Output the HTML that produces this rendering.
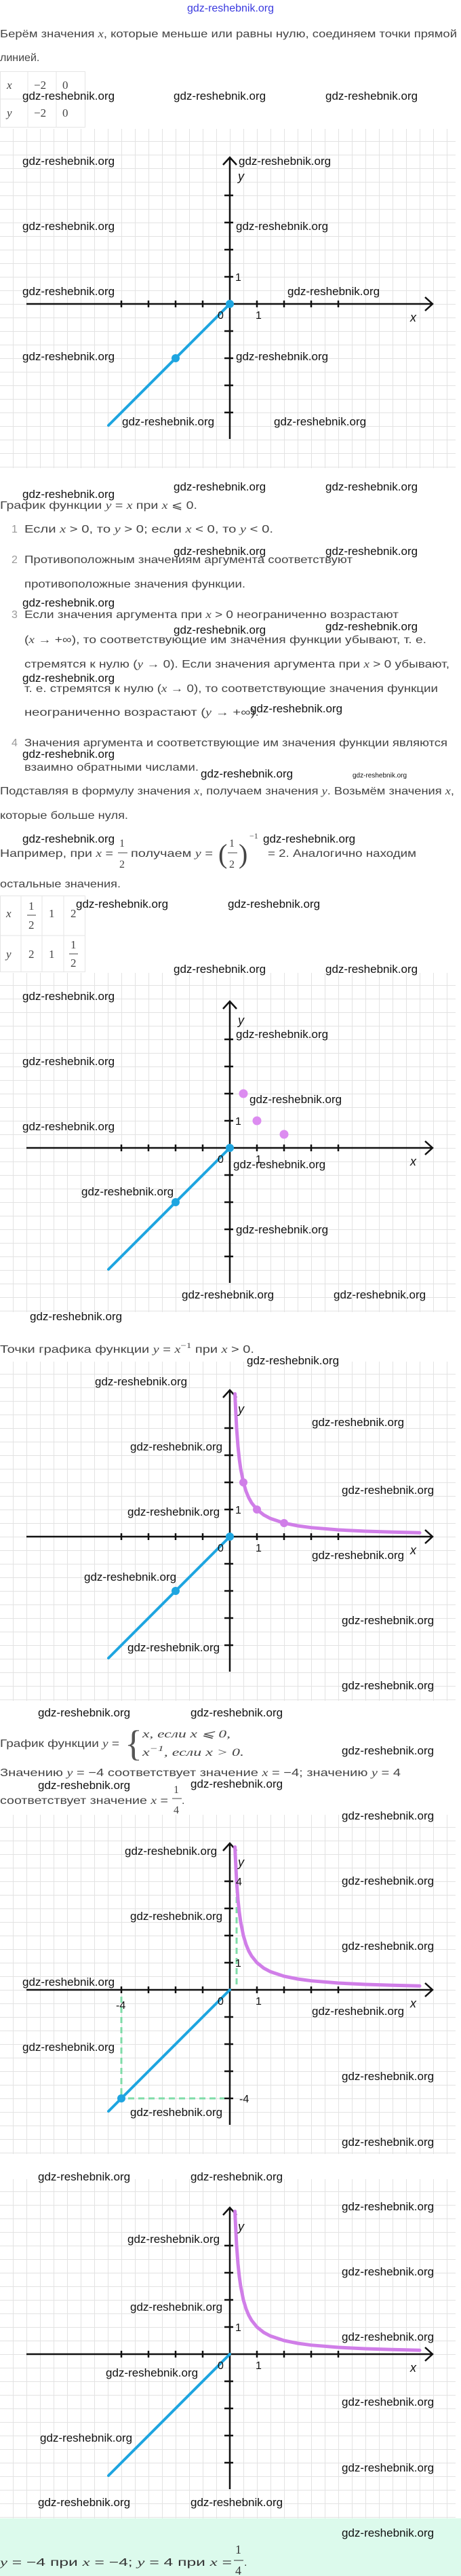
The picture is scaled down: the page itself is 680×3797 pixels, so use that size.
<!DOCTYPE html>
<html><head><meta charset="utf-8"><style>
html,body{margin:0;padding:0;background:#fff}
svg{display:block}
.t{font-family:"Liberation Sans",sans-serif;font-size:16px;fill:#444}
.m{font-family:"Liberation Serif",serif;font-style:italic}
.n{font-family:"Liberation Serif",serif}
.w{font-family:"Liberation Sans",sans-serif;font-size:17px;fill:#111}
.lb{font-family:"Liberation Sans",sans-serif;font-size:16px;fill:#111}
.ax{stroke:#111;stroke-width:2.5;fill:none}
</style></head><body>
<svg width="680" height="3797" viewBox="0 0 680 3797" xmlns="http://www.w3.org/2000/svg">
<defs>
<pattern id="g" width="20" height="20" patternUnits="userSpaceOnUse"><path d="M0 0.5H20M0.5 0V20" stroke="#e3e3e3" stroke-width="1"/></pattern>
<g id="axes">
<rect x="-339" y="-258" width="672" height="500" fill="url(#g)"/>
<path class="ax" d="M-300 0H299M288 -10L299 0L288 10M0 199V-216M-10 -205L0 -216L10 -205"/>
<path class="ax" d="M-160 -5V5M-120 -5V5M-80 -5V5M-40 -5V5M40 -5V5M80 -5V5M120 -5V5M160 -5V5M-8 -160H5M-8 -120H5M-8 -80H5M-8 -40H5M-8 40H5M-8 80H5M-8 120H5M-8 160H5"/>
</g>
<path id="cur" d="M7.6 -210.5L8 -200L10 -160L12 -133.3L14 -114.3L16 -100L20 -80L24 -66.7L28 -57.1L32 -50L40 -40L50 -32L60 -26.7L80 -20L100 -16L120 -13.3L160 -10L200 -8L240 -6.7L280 -5.7" fill="none" stroke="#d07ee8" stroke-width="5" stroke-linecap="round"/>
<path id="bl" d="M-179 179L0 0" stroke="#1ea5e0" stroke-width="4" stroke-linecap="round"/>
</defs>

<text x="340" y="17" text-anchor="middle" style="font-family:'Liberation Sans',sans-serif;font-size:16px;fill:#3a3adf">gdz-reshebnik.org</text>

<text class="t" x="0" y="55" textLength="674" lengthAdjust="spacingAndGlyphs">Берём значения <tspan class="m">x</tspan>, которые меньше или равны нулю, соединяем точки прямой</text>
<text class="t" x="0" y="90">линией.</text>
<rect x="0.5" y="105.5" width="125" height="82" fill="none" stroke="#e5e5e5"/>
<path d="M41 105V187M83 105V187M0 146H126" stroke="#e5e5e5"/>
<g class="t n" style="font-size:17px"><text x="10" y="131" class="m">x</text><text x="50" y="131">−2</text><text x="92" y="131">0</text>
<text x="10" y="172" class="m">y</text><text x="50" y="172">−2</text><text x="92" y="172">0</text></g>

<!-- chart 1 -->
<g transform="translate(339,448)">
<use href="#axes"/><use href="#bl"/>
<circle cx="-80" cy="80" r="6" fill="#1ea5e0"/><circle cx="0" cy="0" r="6" fill="#1ea5e0"/>
<text class="lb" x="-18" y="22">0</text><text class="lb" x="38" y="22">1</text><text class="lb" x="8" y="-34">1</text>
<text class="lb m" x="266" y="26" style="font-family:'Liberation Sans',sans-serif;font-size:18px">x</text><text class="lb m" x="12" y="-182" style="font-family:'Liberation Sans',sans-serif;font-size:18px">y</text>
</g>

<text class="t" x="0" y="750" textLength="291" lengthAdjust="spacingAndGlyphs">График функции <tspan class="m">y</tspan> = <tspan class="m">x</tspan> при <tspan class="m">x</tspan> ⩽ 0.</text>
<g class="t">
<text x="17" y="785" fill="#999">1</text><text x="36" y="785" textLength="367" lengthAdjust="spacingAndGlyphs">Если <tspan class="m">x</tspan> &gt; 0, то <tspan class="m">y</tspan> &gt; 0; если <tspan class="m">x</tspan> &lt; 0, то <tspan class="m">y</tspan> &lt; 0.</text>
<text x="17" y="830" fill="#999">2</text><text x="36" y="830" textLength="484" lengthAdjust="spacingAndGlyphs">Противоположным значениям аргумента соответствуют</text>
<text x="36" y="866" textLength="326" lengthAdjust="spacingAndGlyphs">противоположные значения функции.</text>
<text x="17" y="911" fill="#999">3</text><text x="36" y="911" textLength="552" lengthAdjust="spacingAndGlyphs">Если значения аргумента при <tspan class="m">x</tspan> &gt; 0 неограниченно возрастают</text>
<text x="36" y="948" textLength="593" lengthAdjust="spacingAndGlyphs">(<tspan class="m">x</tspan> → +∞), то соответствующие им значения функции убывают, т. е.</text>
<text x="36" y="984" textLength="627" lengthAdjust="spacingAndGlyphs">стремятся к нулю (<tspan class="m">y</tspan> → 0). Если значения аргумента при <tspan class="m">x</tspan> &gt; 0 убывают,</text>
<text x="36" y="1020" textLength="610" lengthAdjust="spacingAndGlyphs">т. е. стремятся к нулю (<tspan class="m">x</tspan> → 0), то соответствующие значения функции</text>
<text x="36" y="1055" textLength="346" lengthAdjust="spacingAndGlyphs">неограниченно возрастают (<tspan class="m">y</tspan> → +∞).</text>
<text x="17" y="1100" fill="#999">4</text><text x="36" y="1100" textLength="624" lengthAdjust="spacingAndGlyphs">Значения аргумента и соответствующие им значения функции являются</text>
<text x="36" y="1136" textLength="257" lengthAdjust="spacingAndGlyphs">взаимно обратными числами.</text>
<text x="0" y="1171" textLength="670" lengthAdjust="spacingAndGlyphs">Подставляя в формулу значения <tspan class="m">x</tspan>, получаем значения <tspan class="m">y</tspan>. Возьмём значения <tspan class="m">x</tspan>,</text>
<text x="0" y="1207" textLength="189" lengthAdjust="spacingAndGlyphs">которые больше нуля.</text>
<text x="0" y="1263" textLength="167" lengthAdjust="spacingAndGlyphs">Например, при <tspan class="m">x</tspan> =</text>
<text x="176" y="1248" class="n">1</text><path d="M174 1257H188" stroke="#444"/><text x="176" y="1279" class="n">2</text>
<text x="193" y="1263" textLength="121" lengthAdjust="spacingAndGlyphs">получаем <tspan class="m">y</tspan> =</text>
<text x="322" y="1272" class="n" style="font-size:40px">(</text><text x="338" y="1248" class="n">1</text><path d="M336 1257H350" stroke="#444"/><text x="338" y="1279" class="n">2</text><text x="352" y="1272" class="n" style="font-size:40px">)</text>
<text x="368" y="1236" class="n" style="font-size:12px">−1</text>
<text x="395" y="1263" textLength="219" lengthAdjust="spacingAndGlyphs">= 2. Аналогично находим</text>
<text x="0" y="1308" textLength="178" lengthAdjust="spacingAndGlyphs">остальные значения.</text>
</g>
<rect x="0.5" y="1320.5" width="125" height="112" fill="none" stroke="#e5e5e5"/>
<path d="M31 1320V1433M62 1320V1433M94 1320V1433M0 1379H126" stroke="#e5e5e5"/>
<g class="t n" style="font-size:17px">
<text x="9" y="1352" class="m">x</text><text x="42" y="1341">1</text><path d="M40 1349H53" stroke="#444"/><text x="42" y="1369">2</text><text x="72" y="1352">1</text><text x="104" y="1352">2</text>
<text x="9" y="1412" class="m">y</text><text x="42" y="1412">2</text><text x="72" y="1412">1</text><text x="104" y="1398">1</text><path d="M102 1406H115" stroke="#444"/><text x="104" y="1425">2</text>
</g>

<!-- chart 2 -->
<g transform="translate(339,1692)">
<use href="#axes"/><use href="#bl"/>
<circle cx="-80" cy="80" r="6" fill="#1ea5e0"/><circle cx="0" cy="0" r="6" fill="#1ea5e0"/>
<circle cx="20" cy="-80" r="6.5" fill="#dc8cf0"/><circle cx="40" cy="-40" r="6.5" fill="#dc8cf0"/><circle cx="80" cy="-20" r="6.5" fill="#dc8cf0"/>
<text class="lb" x="-18" y="22">0</text><text class="lb" x="38" y="22">1</text><text class="lb" x="8" y="-34">1</text>
<text class="lb" x="266" y="26" style="font-size:18px;font-style:italic">x</text><text class="lb" x="12" y="-182" style="font-size:18px;font-style:italic">y</text>
</g>

<text class="t" x="0" y="1994" textLength="375" lengthAdjust="spacingAndGlyphs">Точки графика функции <tspan class="m">y</tspan> = <tspan class="m">x</tspan><tspan class="n" dy="-7" style="font-size:12px">−1</tspan><tspan dy="7"> при </tspan><tspan class="m">x</tspan> &gt; 0.</text>

<!-- chart 3 -->
<g transform="translate(339,2265)">
<use href="#axes"/><use href="#bl"/><use href="#cur"/>
<circle cx="-80" cy="80" r="6" fill="#1ea5e0"/><circle cx="0" cy="0" r="6" fill="#1ea5e0"/>
<circle cx="20" cy="-80" r="6" fill="#d07ee8"/><circle cx="40" cy="-40" r="6" fill="#d07ee8"/><circle cx="80" cy="-20" r="6" fill="#d07ee8"/>
<text class="lb" x="-18" y="22">0</text><text class="lb" x="38" y="22">1</text><text class="lb" x="8" y="-34">1</text>
<text class="lb" x="266" y="26" style="font-size:18px;font-style:italic">x</text><text class="lb" x="12" y="-182" style="font-size:18px;font-style:italic">y</text>
</g>

<g class="t">
<text x="0" y="2575" textLength="176" lengthAdjust="spacingAndGlyphs">График функции <tspan class="m">y</tspan> =</text>
<text x="184" y="2588" class="n" style="font-size:54px;fill:#555">{</text>
<text x="210" y="2561" class="m" textLength="130" lengthAdjust="spacingAndGlyphs">x,  если x ⩽ 0,</text>
<text x="210" y="2588" class="m" textLength="150" lengthAdjust="spacingAndGlyphs">x<tspan dy="-7" class="n" style="font-size:12px">−1</tspan><tspan dy="7">,  если x &gt; 0.</tspan></text>
<text x="0" y="2618" textLength="591" lengthAdjust="spacingAndGlyphs">Значению <tspan class="m">y</tspan> = −4 соответствует значение <tspan class="m">x</tspan> = −4; значению <tspan class="m">y</tspan> = 4</text>
<text x="0" y="2659" textLength="248" lengthAdjust="spacingAndGlyphs">соответствует значение <tspan class="m">x</tspan> =</text>
<text x="256" y="2643" class="n">1</text><path d="M254 2651H268" stroke="#444"/><text x="256" y="2673" class="n">4</text><text x="268" y="2659">.</text>
</g>

<!-- chart 4 -->
<g transform="translate(339,2933)">
<use href="#axes"/>
<path d="M-160 10V160M-150 160H-8M10 -8V-160" stroke="#7fdca8" stroke-width="3" stroke-dasharray="9 6" fill="none"/>
<use href="#cur"/><use href="#bl"/>
<circle cx="-160" cy="160" r="6" fill="#1ea5e0"/>
<text class="lb" x="-18" y="22">0</text><text class="lb" x="38" y="22">1</text><text class="lb" x="8" y="-34">1</text>
<text class="lb" x="-168" y="28">-4</text><text class="lb" x="14" y="166">-4</text><text class="lb" x="9" y="-154">4</text>
<text class="lb" x="266" y="26" style="font-size:18px;font-style:italic">x</text><text class="lb" x="12" y="-182" style="font-size:18px;font-style:italic">y</text>
</g>

<!-- chart 5 -->
<g transform="translate(339,3470)">
<use href="#axes"/><use href="#cur"/><use href="#bl"/>
<text class="lb" x="-18" y="22">0</text><text class="lb" x="38" y="22">1</text><text class="lb" x="8" y="-34">1</text>
<text class="lb" x="266" y="26" style="font-size:18px;font-style:italic">x</text><text class="lb" x="12" y="-182" style="font-size:18px;font-style:italic">y</text>
</g>

<rect x="0" y="3712" width="680" height="85" fill="#dcfaec"/>
<g class="t" style="fill:#333">
<text x="0" y="3782" textLength="342" lengthAdjust="spacingAndGlyphs"><tspan class="m">y</tspan> = −4 при <tspan class="m">x</tspan> = −4; <tspan class="m">y</tspan> = 4 при <tspan class="m">x</tspan> =</text>
<text x="347" y="3764" class="n" style="font-size:18px">1</text><path d="M345 3774H359" stroke="#333"/><text x="347" y="3795" class="n" style="font-size:18px">4</text><text x="360" y="3782">.</text>
</g>

<!-- watermarks -->
<g class="w">
<text x="33" y="147">gdz-reshebnik.org</text><text x="256" y="147">gdz-reshebnik.org</text><text x="480" y="147">gdz-reshebnik.org</text>
<text x="33" y="243">gdz-reshebnik.org</text><text x="352" y="243">gdz-reshebnik.org</text>
<text x="33" y="339">gdz-reshebnik.org</text><text x="348" y="339">gdz-reshebnik.org</text>
<text x="33" y="435">gdz-reshebnik.org</text><text x="424" y="435">gdz-reshebnik.org</text>
<text x="33" y="531">gdz-reshebnik.org</text><text x="348" y="531">gdz-reshebnik.org</text>
<text x="180" y="627">gdz-reshebnik.org</text><text x="404" y="627">gdz-reshebnik.org</text>
<text x="256" y="723">gdz-reshebnik.org</text><text x="480" y="723">gdz-reshebnik.org</text><text x="33" y="734">gdz-reshebnik.org</text>
<text x="256" y="818">gdz-reshebnik.org</text><text x="480" y="818">gdz-reshebnik.org</text>
<text x="33" y="894">gdz-reshebnik.org</text>
<text x="256" y="934">gdz-reshebnik.org</text><text x="480" y="929">gdz-reshebnik.org</text>
<text x="33" y="1005">gdz-reshebnik.org</text>
<text x="369" y="1050">gdz-reshebnik.org</text>
<text x="33" y="1117">gdz-reshebnik.org</text>
<text x="296" y="1146">gdz-reshebnik.org</text><text x="520" y="1146" style="font-size:10px">gdz-reshebnik.org</text>
<text x="33" y="1242">gdz-reshebnik.org</text><text x="388" y="1242">gdz-reshebnik.org</text>
<text x="112" y="1338">gdz-reshebnik.org</text><text x="336" y="1338">gdz-reshebnik.org</text>
<text x="256" y="1434">gdz-reshebnik.org</text><text x="480" y="1434">gdz-reshebnik.org</text>
<text x="33" y="1474">gdz-reshebnik.org</text>
<text x="348" y="1530">gdz-reshebnik.org</text>
<text x="33" y="1570">gdz-reshebnik.org</text>
<text x="368" y="1626">gdz-reshebnik.org</text>
<text x="33" y="1666">gdz-reshebnik.org</text>
<text x="344" y="1722">gdz-reshebnik.org</text>
<text x="120" y="1762">gdz-reshebnik.org</text>
<text x="348" y="1818">gdz-reshebnik.org</text>
<text x="268" y="1914">gdz-reshebnik.org</text><text x="492" y="1914">gdz-reshebnik.org</text>
<text x="44" y="1946">gdz-reshebnik.org</text>
<text x="364" y="2011">gdz-reshebnik.org</text>
<text x="140" y="2042">gdz-reshebnik.org</text>
<text x="460" y="2102">gdz-reshebnik.org</text>
<text x="192" y="2138">gdz-reshebnik.org</text>
<text x="504" y="2202">gdz-reshebnik.org</text>
<text x="188" y="2234">gdz-reshebnik.org</text>
<text x="460" y="2298">gdz-reshebnik.org</text>
<text x="124" y="2330">gdz-reshebnik.org</text>
<text x="504" y="2394">gdz-reshebnik.org</text>
<text x="188" y="2434">gdz-reshebnik.org</text>
<text x="504" y="2490">gdz-reshebnik.org</text>
<text x="56" y="2530">gdz-reshebnik.org</text><text x="281" y="2530">gdz-reshebnik.org</text>
<text x="504" y="2586">gdz-reshebnik.org</text>
<text x="56" y="2637">gdz-reshebnik.org</text><text x="281" y="2635">gdz-reshebnik.org</text>
<text x="504" y="2682">gdz-reshebnik.org</text>
<text x="184" y="2734">gdz-reshebnik.org</text>
<text x="504" y="2778">gdz-reshebnik.org</text>
<text x="192" y="2830">gdz-reshebnik.org</text>
<text x="504" y="2874">gdz-reshebnik.org</text>
<text x="33" y="2927">gdz-reshebnik.org</text>
<text x="460" y="2970">gdz-reshebnik.org</text>
<text x="33" y="3023">gdz-reshebnik.org</text>
<text x="504" y="3066">gdz-reshebnik.org</text>
<text x="192" y="3119">gdz-reshebnik.org</text>
<text x="504" y="3163">gdz-reshebnik.org</text>
<text x="56" y="3214">gdz-reshebnik.org</text><text x="281" y="3214">gdz-reshebnik.org</text>
<text x="504" y="3258">gdz-reshebnik.org</text>
<text x="188" y="3306">gdz-reshebnik.org</text>
<text x="504" y="3354">gdz-reshebnik.org</text>
<text x="192" y="3406">gdz-reshebnik.org</text>
<text x="504" y="3450">gdz-reshebnik.org</text>
<text x="156" y="3503">gdz-reshebnik.org</text>
<text x="504" y="3546">gdz-reshebnik.org</text>
<text x="59" y="3599">gdz-reshebnik.org</text>
<text x="504" y="3643">gdz-reshebnik.org</text>
<text x="56" y="3694">gdz-reshebnik.org</text><text x="281" y="3694">gdz-reshebnik.org</text>
<text x="504" y="3739">gdz-reshebnik.org</text>
</g>
</svg>
</body></html>
